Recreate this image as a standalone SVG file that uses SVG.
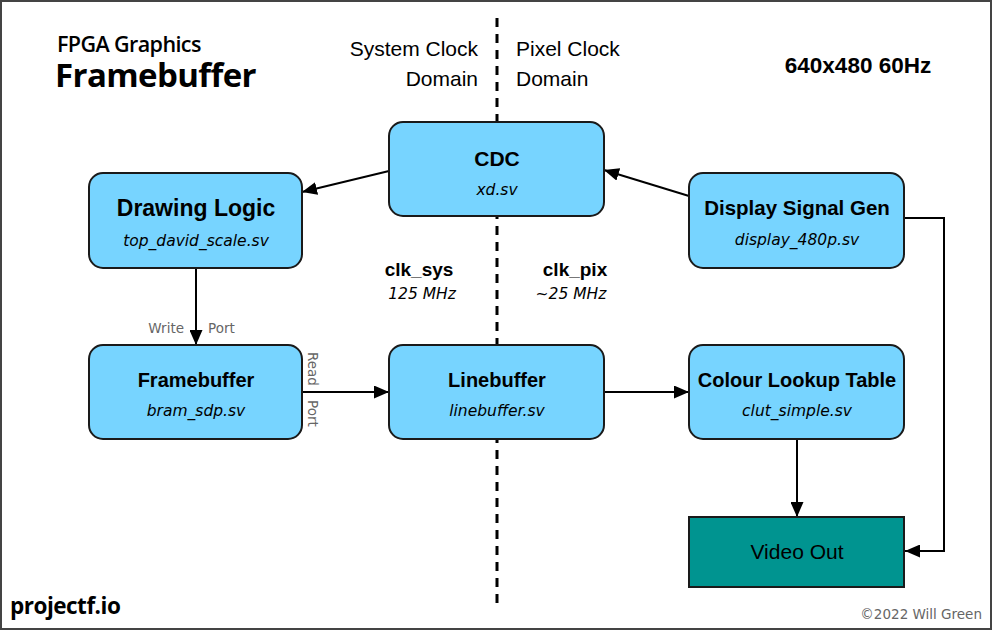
<svg xmlns="http://www.w3.org/2000/svg" width="992" height="630" viewBox="0 0 992 630">
<style>
.box{fill:#77D4FF;stroke:#1a1a1a;stroke-width:2}
.t{font-family:"Liberation Sans",Arial,sans-serif;font-weight:bold;fill:#000;text-anchor:middle}
.s{font-family:"DejaVu Sans",Verdana,sans-serif;font-style:italic;font-size:15.5px;fill:#000;text-anchor:middle}
.h{font-family:"Liberation Sans",Arial,sans-serif;font-size:21px;fill:#000}
.g{font-family:"DejaVu Sans",Verdana,sans-serif;font-size:13.5px;fill:#666}
.c{fill:none;stroke:#000;stroke-width:2}
</style>
<defs>
<marker id="b" viewBox="0 0 15 13" refX="15" refY="6.5" markerWidth="15" markerHeight="13" markerUnits="userSpaceOnUse" orient="auto"><path d="M0,0 L15,6.5 L0,13 z" fill="#000"/></marker>
</defs>
<rect x="1" y="1" width="990" height="628" fill="#fff" stroke="#444" stroke-width="2"/>
<g id="title">
<text x="57" y="52" font-family="'Open Sans',sans-serif" font-weight="600" font-size="21.5" letter-spacing="-0.6">FPGA Graphics</text>
<text x="55" y="87" font-family="'Open Sans',sans-serif" font-weight="bold" font-size="33" letter-spacing="-0.6">Framebuffer</text>
<text x="858" y="73" class="t" font-size="22.5">640x480 60Hz</text>
<text x="10" y="614" font-family="'Open Sans',sans-serif" font-weight="bold" font-size="22.5" letter-spacing="-0.5">projectf.io</text>
<text x="982" y="619" class="g" font-size="12" text-anchor="end">©2022 Will Green</text>
</g>
<g id="domains">
<line x1="497" y1="18" x2="497" y2="606" stroke="#000" stroke-width="3" stroke-dasharray="9,7"/>
<text x="478" y="56" class="h" text-anchor="end">System Clock</text>
<text x="478" y="86" class="h" text-anchor="end">Domain</text>
<text x="516" y="56" class="h">Pixel Clock</text>
<text x="516" y="86" class="h">Domain</text>
<text x="419" y="276" class="t" font-size="19">clk_sys</text>
<text x="422" y="299" class="s" font-size="12">125 MHz</text>
<text x="575" y="276" class="t" font-size="19">clk_pix</text>
<text x="571" y="299" class="s" font-size="12">~25 MHz</text>
</g>
<g id="connectors">
<line x1="389" y1="171" x2="302" y2="192" class="c" marker-end="url(#b)"/>
<line x1="689" y1="196" x2="604" y2="170" class="c" marker-end="url(#b)"/>
<line x1="196" y1="268" x2="196" y2="345" class="c" marker-end="url(#b)"/>
<line x1="302" y1="392" x2="389" y2="392" class="c" marker-end="url(#b)"/>
<line x1="604" y1="392" x2="689" y2="392" class="c" marker-end="url(#b)"/>
<line x1="797" y1="439" x2="797" y2="517" class="c" marker-end="url(#b)"/>
<polyline points="904,218 944,218 944,551 905,551" class="c" marker-end="url(#b)"/>
<text x="184" y="333" class="g" text-anchor="end">Write</text>
<text x="208" y="333" class="g">Port</text>
<text transform="translate(308,352) rotate(90)" class="g">Read</text>
<text transform="translate(308,400) rotate(90)" class="g">Port</text>
</g>
<g id="cdc">
<rect x="389" y="122" width="215" height="94" rx="14" class="box"/>
<text x="497" y="166" class="t" font-size="21">CDC</text>
<text x="497" y="195" class="s">xd.sv</text>
</g>
<g id="drawing">
<rect x="89" y="173" width="213" height="95" rx="14" class="box"/>
<text x="196" y="216" class="t" font-size="23">Drawing Logic</text>
<text x="196" y="246" class="s">top_david_scale.sv</text>
</g>
<g id="display">
<rect x="689" y="173" width="215" height="95" rx="14" class="box"/>
<text x="797" y="215" class="t" font-size="20.5">Display Signal Gen</text>
<text x="797" y="245" class="s">display_480p.sv</text>
</g>
<g id="framebuffer">
<rect x="89" y="345" width="213" height="94" rx="14" class="box"/>
<text x="196" y="387" class="t" font-size="20">Framebuffer</text>
<text x="196" y="416" class="s">bram_sdp.sv</text>
</g>
<g id="linebuffer">
<rect x="389" y="345" width="215" height="94" rx="14" class="box"/>
<text x="497" y="387" class="t" font-size="20">Linebuffer</text>
<text x="497" y="416" class="s">linebuffer.sv</text>
</g>
<g id="clut">
<rect x="689" y="345" width="215" height="94" rx="14" class="box"/>
<text x="797" y="387" class="t" font-size="20">Colour Lookup Table</text>
<text x="797" y="416" class="s">clut_simple.sv</text>
</g>
<g id="video">
<rect x="689" y="517" width="215" height="70" fill="#009490" stroke="#1a1a1a" stroke-width="2"/>
<text x="797" y="559" class="h" text-anchor="middle" font-size="23">Video Out</text>
</g>
</svg>
